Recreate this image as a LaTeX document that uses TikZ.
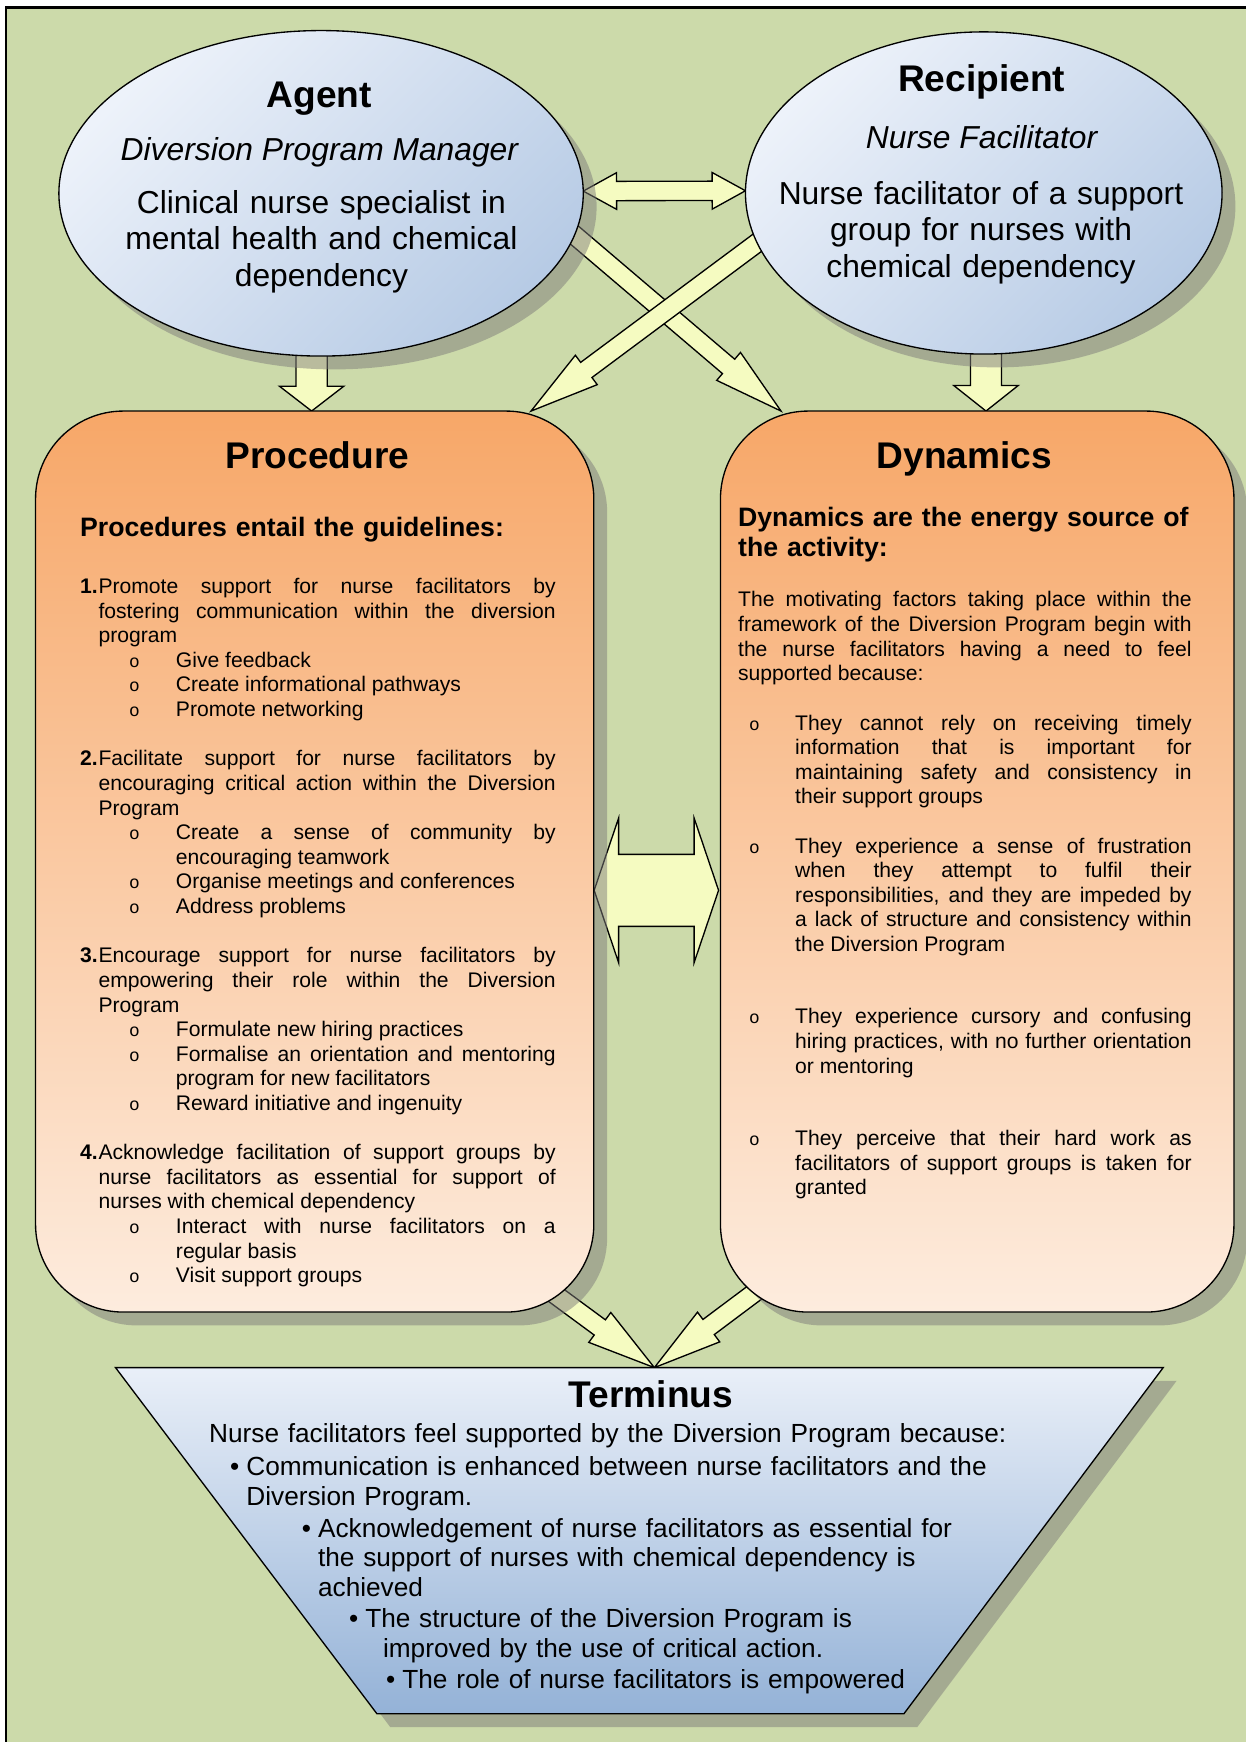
\documentclass[tikz,border=0pt]{standalone}
\usepackage{fontspec}
\setmainfont{Liberation Sans}
\newfontfamily\bulletfont{Liberation Mono}
\usetikzlibrary{shapes.geometric,shadows,calc}

\definecolor{framegreen}{RGB}{204,218,170}
\definecolor{shadowgrey}{RGB}{126,124,122}
\definecolor{arrowyellow}{RGB}{245,251,193}
\definecolor{bubbletop}{RGB}{237,242,250}
\definecolor{bubblebottom}{RGB}{183,203,229}
\definecolor{paneltop}{RGB}{247,167,104}
\definecolor{panelbottom}{RGB}{253,236,222}
\definecolor{termtop}{RGB}{233,239,248}
\definecolor{termbottom}{RGB}{148,178,215}

\pgfdeclarelayer{frame}
\pgfdeclarelayer{links}
\pgfsetlayers{frame,links,main}

\tolerance=10000
\hbadness=10000
\hyphenpenalty=10000
\exhyphenpenalty=10000

\tikzset{
  softshadow/.style={drop shadow={shadow xshift=6pt,shadow yshift=-6pt,fill=shadowgrey,opacity=0.5}},
  bubble/.style={ellipse,draw,line width=0.6pt,inner sep=0pt,outer sep=0pt,
    top color=bubbletop,bottom color=bubblebottom,shading angle=45,softshadow},
  panel/.style={rectangle,draw,line width=0.6pt,rounded corners=39.5pt,inner sep=0pt,outer sep=0pt,
    top color=paneltop,bottom color=panelbottom,softshadow},
  arrowbody/.style={draw,line width=0.6pt,fill=arrowyellow,line join=miter},
  bigtitle/.style={inner sep=0pt,anchor=base,font=\fontsize{16.7}{20}\selectfont\bfseries},
  bubblerole/.style={inner sep=0pt,anchor=base,font=\fontsize{14.3}{16.5}\selectfont\itshape},
  bubbletext/.style={inner sep=0pt,anchor=base,text width=230pt,align=center,font=\fontsize{14.3}{16.5}\selectfont},
  panelsub/.style={inner sep=0pt,anchor=base west,text width=215pt,align=left,font=\fontsize{12}{13.5}\selectfont\bfseries},
  paneltext/.style={inner sep=0pt,anchor=base west,align=justify,font=\fontsize{9.5}{11.08}\selectfont},
  termtext/.style={inner sep=0pt,anchor=base west,text width=420pt,align=left,font=\fontsize{11.8}{13.4}\selectfont}
}

% list helpers for the panels
\newcommand{\numitem}[2]{\noindent\hangindent=8.25pt\hangafter=1\makebox[8.25pt][l]{\textbf{#1}}#2\par}
\newcommand{\oitem}[1]{\noindent\hangindent=43.1pt\hangafter=0\llap{\makebox[21.1pt][l]{\fontsize{8}{8}\bulletfont o}}#1\par}
\newcommand{\ditem}[1]{\noindent\hangindent=25.7pt\hangafter=0\llap{\makebox[20.7pt][l]{\fontsize{8}{8}\bulletfont o}}#1\par}
\newcommand{\blankline}[1][1]{\vspace*{#1\baselineskip}}
\newcommand{\tbullet}{\llap{\makebox[7.3pt][l]{\textbullet}}}

% block arrows: from, to, shaft half width, head half width, head length
\newcommand{\fatarrow}[5]{%
  \coordinate (#1-back) at ($(#2)!#5!(#1)$);
  \draw[arrowbody] ($(#1)!#3!90:(#2)$) -- ($(#1-back)!#3!90:(#2)$) -- ($(#1-back)!#4!90:(#2)$) -- (#2)
    -- ($(#1-back)!#4!-90:(#2)$) -- ($(#1-back)!#3!-90:(#2)$) -- ($(#1)!#3!-90:(#2)$) -- cycle;}
\newcommand{\twinarrow}[5]{%
  \coordinate (#1-back) at ($(#1)!#5!(#2)$);
  \coordinate (#2-back) at ($(#2)!#5!(#1)$);
  \draw[arrowbody] (#1) -- ($(#1-back)!#4!90:(#2)$) -- ($(#1-back)!#3!90:(#2)$)
    -- ($(#2-back)!#3!-90:(#1)$) -- ($(#2-back)!#4!-90:(#1)$) -- (#2)
    -- ($(#2-back)!#4!90:(#1)$) -- ($(#2-back)!#3!90:(#1)$)
    -- ($(#1-back)!#3!-90:(#2)$) -- ($(#1-back)!#4!-90:(#2)$) -- cycle;}

\begin{document}
\begin{tikzpicture}[x=0.5pt,y=-0.5pt]
\useasboundingbox (0,0) rectangle (1121,1568);

\begin{pgfonlayer}{frame}
\draw[line width=1.1pt,fill=framegreen] (5.3,6.6) rectangle (1160,1610);
\end{pgfonlayer}

% Agent and Recipient
\node[bubble,minimum width=236pt,minimum height=146.5pt] (agent) at (289,174) {};
\node[bubble,minimum width=214.5pt,minimum height=145pt] (recipient) at (885.5,173.7) {};

\node[bigtitle] (agent-title) at (287.5,97) {Agent};
\node[bubblerole] (agent-role) at (287.5,144.7) {Diversion Program Manager};
\node[bubbletext] (agent-text) at (289.3,192) {Clinical nurse specialist in\\mental health and chemical\\dependency};

\node[bigtitle] (recipient-title) at (883.5,82.5) {Recipient};
\node[bubblerole] (recipient-role) at (883.5,133.6) {Nurse Facilitator};
\node[bubbletext] (recipient-text) at (883,183.7) {Nurse facilitator of a support\\group for nurses with\\chemical dependency};

% Procedure and Dynamics
\node[panel,minimum width=251.25pt,minimum height=405.5pt] (procedure) at (283.25,775.5) {};
\node[panel,minimum width=231.1pt,minimum height=405.5pt] (dynamics) at (879.6,775.5) {};

\node[bigtitle] (procedure-title) at (285.8,421.7) {Procedure};
\node[panelsub] (procedure-sub) at (71.8,483.2) {Procedures entail the guidelines:};
\node[paneltext,text width=214pt] (procedure-text) at (71.8,534.2) {%
\numitem{1.}{Promote support for nurse facilitators by\linebreak fostering communication within the diversion\linebreak program}%
\oitem{Give feedback}%
\oitem{Create informational pathways}%
\oitem{Promote networking}%
\blankline
\numitem{2.}{Facilitate support for nurse facilitators by\linebreak encouraging critical action within the Diversion\linebreak Program}%
\oitem{Create a sense of community by\linebreak encouraging teamwork}%
\oitem{Organise meetings and conferences}%
\oitem{Address problems}%
\blankline
\numitem{3.}{Encourage support for nurse facilitators by\linebreak empowering their role within the Diversion\linebreak Program}%
\oitem{Formulate new hiring practices}%
\oitem{Formalise an orientation and mentoring\linebreak program for new facilitators}%
\oitem{Reward initiative and ingenuity}%
\blankline
\numitem{4.}{Acknowledge facilitation of support groups by\linebreak nurse facilitators as essential for support of\linebreak nurses with chemical dependency}%
\oitem{Interact with nurse facilitators on a\linebreak regular basis}%
\oitem{Visit support groups}};

\node[bigtitle] (dynamics-title) at (868.2,421.7) {Dynamics};
\node[panelsub] (dynamics-sub) at (664,473.6) {Dynamics are the energy source of\\the activity:};
\node[paneltext,text width=204.1pt] (dynamics-text) at (664,546.3) {%
The motivating factors taking place within the\linebreak framework of the Diversion Program begin with\linebreak the nurse facilitators having a need to feel\linebreak supported because:\par
\blankline
\ditem{They cannot rely on receiving timely\linebreak information that is important for\linebreak maintaining safety and consistency in\linebreak their support groups}%
\blankline
\ditem{They experience a sense of frustration\linebreak when they attempt to fulfil their\linebreak responsibilities, and they are impeded by\linebreak a lack of structure and consistency within\linebreak the Diversion Program}%
\blankline[1.94]
\ditem{They experience cursory and confusing\linebreak hiring practices, with no further orientation\linebreak or mentoring}%
\blankline[1.94]
\ditem{They perceive that their hard work as\linebreak facilitators of support groups is taken for\linebreak granted}};

% Terminus
\coordinate (term-nw) at (104,1231);
\coordinate (term-ne) at (1047,1231);
\coordinate (term-se) at (813.6,1542.6);
\coordinate (term-sw) at (339.3,1542.6);
\coordinate (term-top) at (589,1231);
\path[softshadow,draw,line width=0.6pt,top color=termtop,bottom color=termbottom]
  (term-nw) -- (term-ne) -- (term-se) -- (term-sw) -- cycle;

\node[bigtitle] (terminus-title) at (585.9,1266.6) {Terminus};
\node[termtext] (terminus-intro) at (187.9,1298.1) {Nurse facilitators feel supported by the Diversion Program because:};
\node[termtext] (terminus-b1) at (221.4,1328.1) {\tbullet Communication is enhanced between nurse facilitators and the\\Diversion Program.};
\node[termtext] (terminus-b2) at (285.9,1383.6) {\tbullet Acknowledgement of nurse facilitators as essential for\\the support of nurses with chemical dependency is\\achieved};
\node[termtext] (terminus-b3) at (328.4,1464.7) {\tbullet The structure of the Diversion Program is\\\hspace*{8pt}improved by the use of critical action.};
\node[termtext] (terminus-b4) at (361.8,1520.2) {\tbullet The role of nurse facilitators is empowered};

% connectors
\coordinate (agent-down) at ([shift={(-8.5,-25)}]agent.south);
\coordinate (procedure-in) at (agent-down |- procedure.north);
\coordinate (recipient-down) at ([shift={(2,-25)}]recipient.south);
\coordinate (dynamics-in) at (recipient-down |- dynamics.north);
\coordinate (agent-side) at ([shift={(0,-2)}]agent.east);
\coordinate (recipient-side) at ([shift={(0,-2)}]recipient.west);
\coordinate (agent-cross) at ([shift={(197.5,11.6)}]agent.center);
\coordinate (dynamics-corner) at ([shift={(54.5,0)}]dynamics.north west);
\coordinate (recipient-cross) at ([shift={(-172.4,21.4)}]recipient.center);
\coordinate (procedure-corner) at ([shift={(-56.5,0)}]procedure.north east);
\coordinate (procedure-out) at ([shift={(-58.2,-33)}]procedure.south east);
\coordinate (dynamics-out) at ([shift={(52.6,-33.9)}]dynamics.south west);
\coordinate (procedure-side) at ([shift={(0.3,25.9)}]procedure.east);
\coordinate (dynamics-side) at ([shift={(-1.7,25.9)}]dynamics.west);

\begin{pgfonlayer}{links}
\fatarrow{agent-down}{procedure-in}{7pt}{14.5pt}{11.2pt}
\fatarrow{recipient-down}{dynamics-in}{7pt}{14.5pt}{11.5pt}
\twinarrow{agent-side}{recipient-side}{4.35pt}{8.25pt}{15pt}
\fatarrow{agent-cross}{dynamics-corner}{4.25pt}{8.25pt}{31pt}
\fatarrow{recipient-cross}{procedure-corner}{4.25pt}{8.25pt}{31pt}
\fatarrow{procedure-out}{term-top}{4.25pt}{8.35pt}{30.5pt}
\fatarrow{dynamics-out}{term-top}{4.25pt}{8.35pt}{30.5pt}
\twinarrow{procedure-side}{dynamics-side}{16.2pt}{32.5pt}{11pt}
\end{pgfonlayer}
\end{tikzpicture}
\end{document}
